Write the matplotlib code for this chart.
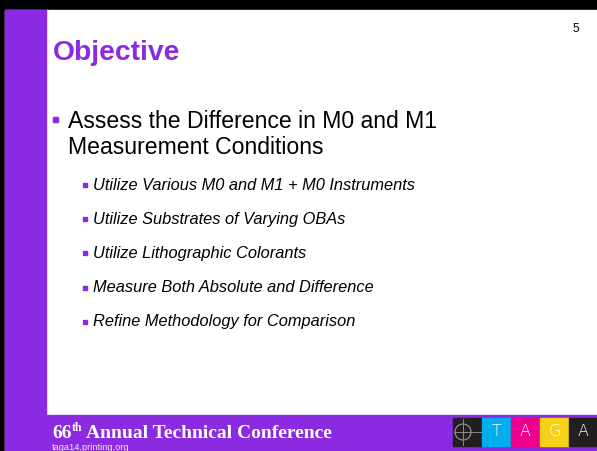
import matplotlib
matplotlib.use("Agg")
import matplotlib.pyplot as plt
from matplotlib.patches import Rectangle
from matplotlib.lines import Line2D

# slide content
title = "Objective"
page_number = "5"
main_bullet = ["Assess the Difference in M0 and M1", "Measurement Conditions"]
sub_bullets = [
    "Utilize Various M0 and M1 + M0 Instruments",
    "Utilize Substrates of Varying OBAs",
    "Utilize Lithographic Colorants",
    "Measure Both Absolute and Difference",
    "Refine Methodology for Comparison",
]
footer_edition = "66"
footer_suffix = "th"
footer_title = "Annual Technical Conference"
footer_url = "taga14.printing.org"
logo_letters = ["", "T", "A", "G", "A"]
logo_colors = ["#231f20", "#00aeef", "#ec008c", "#f7d117", "#231f20"]

PURPLE = "#8a2be2"
W, H = 597, 451

fig = plt.figure(figsize=(W / 100, H / 100), dpi=100)
ax = fig.add_axes([0, 0, 1, 1])
ax.set_xlim(0, W)
ax.set_ylim(H, 0)
ax.axis("off")

# frame, side bar and footer band
ax.add_patch(Rectangle((0, 0), W, H, color="black"))
ax.add_patch(Rectangle((5, 10), W - 5, H - 10, color="white"))
ax.add_patch(Rectangle((5, 10), 41, 405, color=PURPLE))
ax.add_patch(Rectangle((5, 415), W - 5, H - 415, color=PURPLE))

ax.text(53, 53, title, color=PURPLE, fontsize=20.3, fontweight="bold",
        family="Liberation Sans", va="center", ha="left")
ax.text(576, 29.5, page_number, fontsize=8.5, family="Liberation Sans",
        va="center", ha="center")

# main bullet
ax.add_patch(Rectangle((53, 117), 5, 5, color=PURPLE))
for i, line in enumerate(main_bullet):
    ax.text(68, 128 + i * 26, line, fontsize=16.6, family="Liberation Sans",
            va="baseline", ha="left")

# sub bullets
y0, dy = 185, 34.2
for i, line in enumerate(sub_bullets):
    y = y0 + i * dy
    ax.add_patch(Rectangle((83, y - 2), 3.5, 4, color=PURPLE))
    ax.text(93, y, line, fontsize=11.8, style="italic",
            family="Liberation Sans", va="center", ha="left")

# footer text, laid out left to right
fig.canvas.draw()
renderer = fig.canvas.get_renderer()


def width_px(t):
    bb = t.get_window_extent(renderer=renderer)
    return bb.width


t1 = ax.text(52, 438, footer_edition, color="white", fontsize=14,
             fontweight="bold", family="Liberation Serif",
             va="baseline", ha="left")
x = 52 + width_px(t1) + 0.5
t2 = ax.text(x, 431, footer_suffix, color="white", fontsize=8.5,
             fontweight="bold", family="Liberation Serif",
             va="baseline", ha="left")
x += width_px(t2) + 4
ax.text(x, 438, footer_title, color="white", fontsize=14,
        fontweight="bold", family="Liberation Serif",
        va="baseline", ha="left")
ax.text(52, 450, footer_url, color="#eeeeee", fontsize=6.7,
        family="Liberation Sans", va="baseline", ha="left")

# logo
bw = 29
x0 = 453
for i, (letter, col) in enumerate(zip(logo_letters, logo_colors)):
    bx = x0 + i * bw
    ax.add_patch(Rectangle((bx, 418), bw, 28, color=col))
    if letter:
        ax.text(bx + bw / 2, 432, letter, color="white", fontsize=11.5,
                family="DejaVu Sans", fontweight="light", va="center", ha="center")
# crosshair in the first box
cx, cy = 463, 432
ax.add_patch(plt.Circle((cx, cy), 8, fill=False, ec="#9a9a9a", lw=0.8))
ax.add_line(Line2D([x0 + 1, x0 + bw - 1], [cy, cy], color="#9a9a9a", lw=0.6))
ax.add_line(Line2D([cx, cx], [419, 445], color="#9a9a9a", lw=0.6))

fig.savefig("out.png", dpi=100)
